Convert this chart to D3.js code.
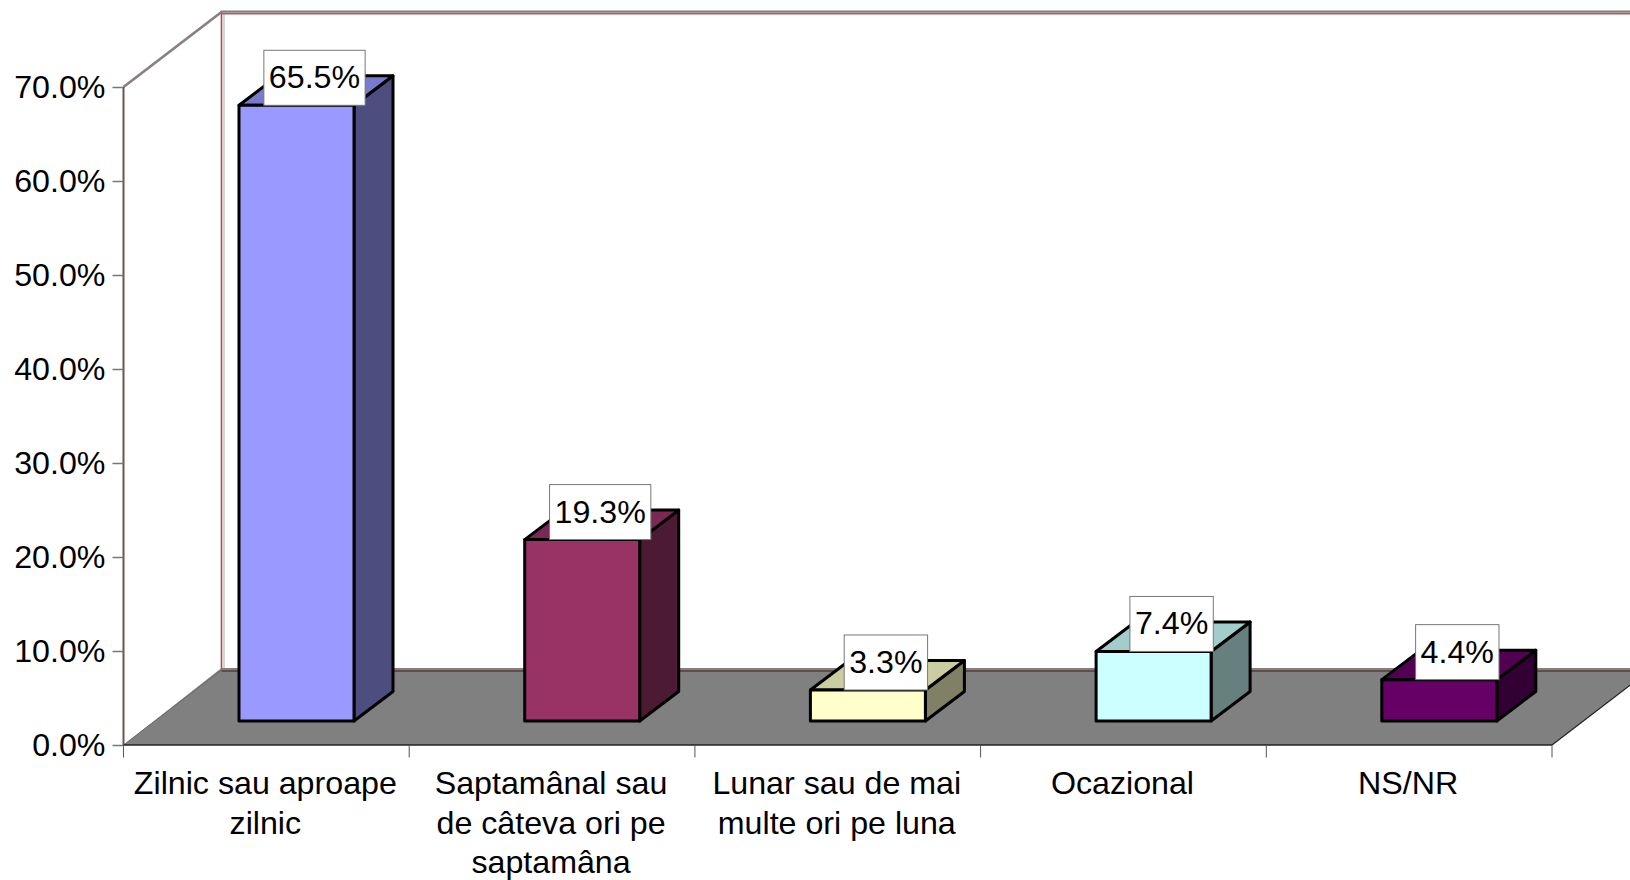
<!DOCTYPE html>
<html><head><meta charset="utf-8">
<script src="https://cdnjs.cloudflare.com/ajax/libs/d3/7.8.5/d3.min.js"></script>
<style>html,body{margin:0;padding:0;background:#fff;overflow:hidden}svg{display:block}
text{font-family:"Liberation Sans",Arial,sans-serif;fill:#000}</style>
</head><body><svg id="c" width="1630" height="880"></svg>
<script>
const categories = [["Zilnic sau aproape","zilnic"],["Saptamânal sau","de câteva ori pe","saptamâna"],["Lunar sau de mai","multe ori pe luna"],["Ocazional"],["NS/NR"]];
const values = [65.5,19.3,3.3,7.4,4.4];
const labels = ["65.5%","19.3%","3.3%","7.4%","4.4%"];
const frontColors = ["#9999ff","#993366","#ffffcc","#ccffff","#660066"];
const topColors = ["#7a7acc","#7a2952","#cccca3","#a3cccc","#520052"];
const sideColors = ["#4d4d80","#4d1a33","#808066","#668080","#330033"];
const tickValues = d3.range(0,71,10);

const svg = d3.select("#c");
const FS = 32.2;
const x = d3.scaleBand().domain(d3.range(5)).range([123.5,1552]);
const y = d3.scaleLinear().domain([0,70]).range([745,87]);
const dx = 98, dy = -75, L = x.range()[0], R = x.range()[1], B = y(0), T = y(70);

// back wall, side wall, floor
svg.append("path").attr("d",`M${L+dx},${T+dy}H1640V${B+dy}H${L+dx}Z`).attr("fill","#fff").attr("stroke","none");
svg.append("path").attr("d",`M${L+dx+2.5},${T+dy+2}V${B+dy}`).attr("stroke","#c8c8c8").attr("stroke-width",1.5);
svg.append("path").attr("d",`M${L+dx},${T+dy}V${B+dy}`).attr("stroke","#a84a4a").attr("stroke-width",1.6);
svg.append("path").attr("d",`M${L+dx},${T+dy+1.8}H1640`).attr("stroke","#b85a5a").attr("stroke-width",1.4);
svg.append("path").attr("d",`M${L+dx-1},${T+dy-0.4}H1640`).attr("stroke","#808080").attr("stroke-width",2.4);
svg.append("path").attr("d",`M${L},${T}L${L+dx},${T+dy}`).attr("stroke","#8a8080").attr("stroke-width",2.8);
svg.append("path").attr("d",`M${L},${B}L${L+dx},${B+dy-2}H${R+dx}V${B+dy}L${R},${B}Z`).attr("fill","#808080").attr("stroke","none");
svg.append("path").attr("d",`M${L},${B}L${L+dx},${B+dy}`).attr("stroke","#706868").attr("stroke-width",1);
svg.append("path").attr("d",`M${L+dx},${B+dy+1}H1640`).attr("stroke","#4a1616").attr("stroke-width",1);
svg.append("path").attr("d",`M${R},${B}L${R+dx},${B+dy}`).attr("stroke","#222").attr("stroke-width",1.2);

// axes
const axisY = d3.axisLeft(y).tickValues(tickValues).tickFormat(d=>d.toFixed(1)+"%").tickSize(11).tickPadding(7);
const gy = svg.append("g").attr("transform",`translate(${L},0)`).call(axisY);
gy.select(".domain").attr("stroke","#6b5555").attr("stroke-width",2).attr("d",`M0,${T}V${B}`);
gy.selectAll(".tick line").attr("stroke","#777").attr("stroke-width",1.5);
gy.selectAll("text").style("font-size",FS+"px").style("font-family",'"Liberation Sans",Arial,sans-serif').attr("fill","#000");

const gx = svg.append("g");
gx.append("line").attr("x1",L).attr("x2",R).attr("y1",B).attr("y2",B).attr("stroke","#222").attr("stroke-width",1.5);
gx.selectAll("line.t").data(d3.range(6)).join("line").attr("class","t")
  .attr("x1",i=>L+i*x.step()).attr("x2",i=>L+i*x.step()).attr("y1",B).attr("y2",B+12.5).attr("stroke","#555").attr("stroke-width",1);
gx.selectAll("text").data(categories).join("text")
  .attr("text-anchor","middle").style("font-size",FS+"px")
  .each(function(lines,i){
    d3.select(this).selectAll("tspan").data(lines).join("tspan")
      .attr("x",x(i)+x.bandwidth()/2-1).attr("y",(d,j)=>794+j*39.5).text(d=>d);
  });

// bars
const bw = 115, bdx = 39, bdy = -29.5, offX = 115.5;
const baseY = 721, lift = B-baseY;
const barG = svg.selectAll("g.bar").data(values).join("g").attr("class","bar");
const bx = i=>x(i)+offX;
const topY = v=>y(v)-lift;
const st = s=>s.attr("stroke","#000").attr("stroke-width",3).attr("stroke-linejoin","round");
barG.append("path").attr("fill",(d,i)=>sideColors[i]).call(st)
  .attr("d",(d,i)=>`M${bx(i)+bw},${baseY}V${topY(d)}l${bdx},${bdy}V${baseY+bdy}Z`);
barG.append("path").attr("fill",(d,i)=>topColors[i]).call(st)
  .attr("d",(d,i)=>`M${bx(i)},${topY(d)}l${bdx},${bdy}h${bw}l${-bdx},${-bdy}Z`);
barG.append("rect").attr("fill",(d,i)=>frontColors[i]).call(st)
  .attr("x",(d,i)=>bx(i)).attr("width",bw).attr("y",d=>topY(d)).attr("height",d=>baseY-topY(d));

// data labels
const lab = svg.selectAll("g.lab").data(values).join("g").attr("class","lab");
lab.each(function(d,i){
  const g = d3.select(this), cx = bx(i)+bw/2+18, by = topY(d);
  const t = g.append("text").attr("x",cx).attr("y",by-17).attr("text-anchor","middle").style("font-size",FS+"px").text(labels[i]);
  const w = t.node().getComputedTextLength()+10;
  g.insert("rect","text").attr("x",cx-w/2).attr("y",by-55).attr("width",w).attr("height",55).attr("fill","#fff").attr("stroke","#777").attr("stroke-width",1);
});
</script></body></html>
